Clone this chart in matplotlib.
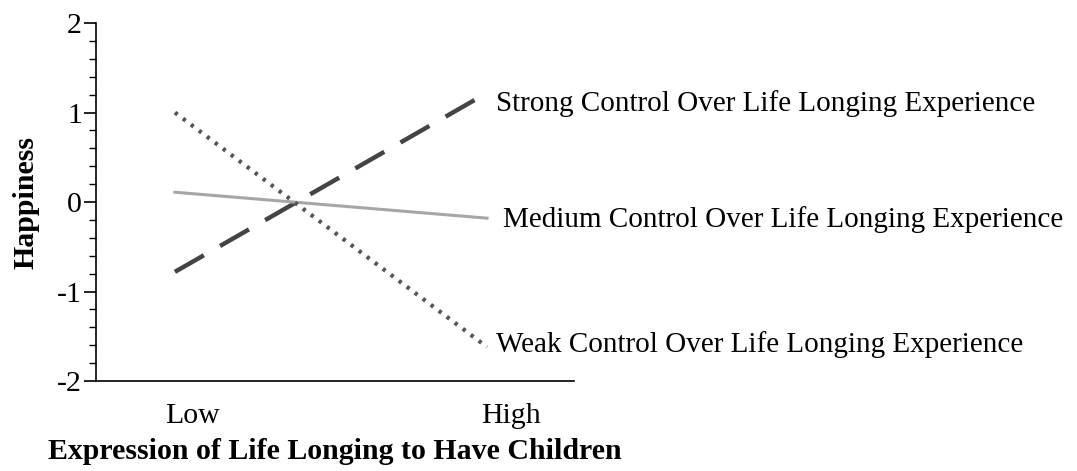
import matplotlib.pyplot as plt

# =========================
# DATA
# =========================
x_levels = [0, 1]
strong = [-0.78, 1.22]
medium = [0.11, -0.18]
weak = [1.00, -1.62]
labels = [
    "Strong Control Over Life Longing Experience",
    "Medium Control Over Life Longing Experience",
    "Weak Control Over Life Longing Experience",
]
tick_pos = [0.055, 1.075]
tick_labels = ["Low", "High"]

FS = 21.5
FS_END = 21

plt.rcParams["font.family"] = ["Liberation Serif", "DejaVu Serif"]

fig = plt.figure(figsize=(10.77, 4.71), dpi=100)
ax = fig.add_axes([0.0891, 0.191, 0.444, 0.760])

ax.plot(x_levels, strong, color="#444444", lw=3.2, linestyle=(0, (7.5, 4.2)))
ax.plot(x_levels, medium, color="#a6a6a6", lw=2.2, linestyle="-")
ax.plot(x_levels, weak, color="#555555", lw=3.0, linestyle=(0, (0.8, 1.6)))

# end labels
ax.text(1.03, strong[1] - 0.12, labels[0], fontsize=FS_END, va="center", ha="left", clip_on=False)
ax.text(1.05, medium[1] - 0.01, labels[1], fontsize=FS_END, va="center", ha="left", clip_on=False)
ax.text(1.03, weak[1] + 0.03, labels[2], fontsize=FS_END, va="center", ha="left", clip_on=False)

ax.set_xlim(-0.253, 1.279)
ax.set_ylim(-2, 2)
ax.set_yticks([-2, -1, 0, 1, 2])
ax.set_yticklabels(["-2", "-1", "0", "1", "2"])
ax.set_yticks([v / 5 for v in range(-10, 11) if v % 5 != 0], minor=True)
ax.tick_params(axis="y", which="major", length=9, width=1.2, labelsize=FS, pad=1)
ax.tick_params(axis="y", which="minor", length=5, width=1.0)

ax.set_xticks(tick_pos)
ax.set_xticklabels(tick_labels)
ax.tick_params(axis="x", length=0, labelsize=FS, pad=16)

for s in ["top", "right"]:
    ax.spines[s].set_visible(False)
ax.spines["left"].set_linewidth(1.2)
ax.spines["bottom"].set_linewidth(1.2)

ax.set_ylabel("Happiness", fontsize=FS, fontweight="bold", labelpad=13)
ax.set_xlabel("Expression of Life Longing to Have Children", fontsize=FS,
              fontweight="bold", labelpad=6)

plt.savefig("out.png", dpi=100)
plt.close()
